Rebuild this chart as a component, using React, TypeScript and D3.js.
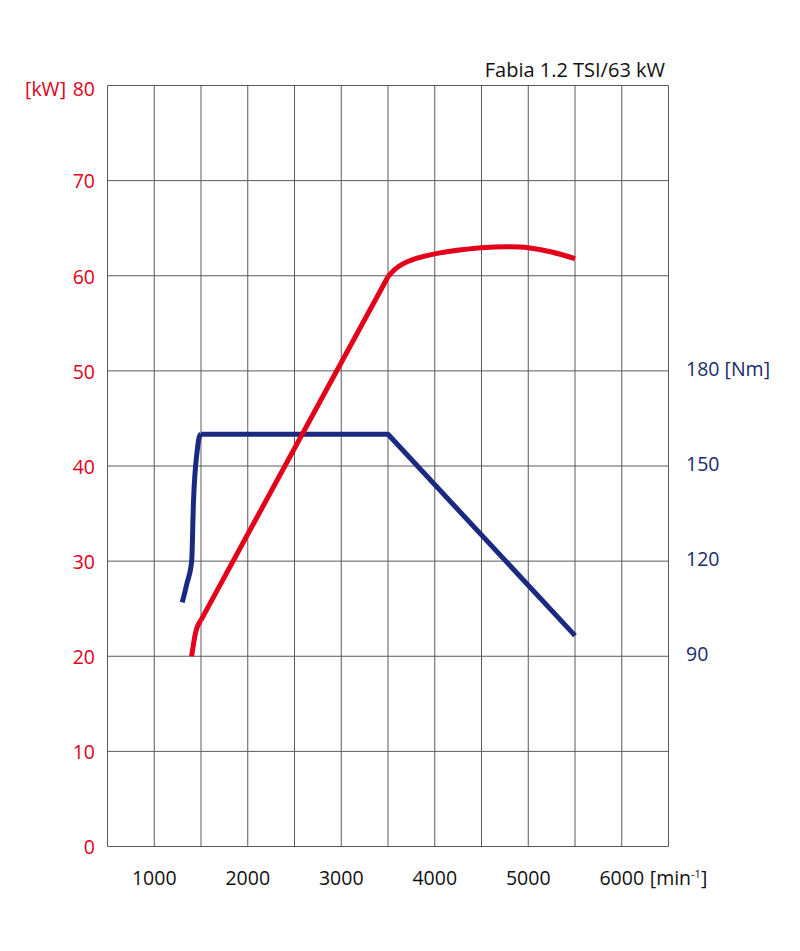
import React from "react";
import * as d3 from "d3";

const rpmTicks = [1000, 2000, 3000, 4000, 5000, 6000];
const kwTicks = [0, 10, 20, 30, 40, 50, 60, 70, 80];
const nmTicks = [90, 120, 150, 180];

const powerRpm = [1400, 1440, 1500, 3500, 3650, 4000, 4500, 4800, 5000, 5250, 5500];
const powerKw = [20, 22.4, 23.8, 59.9, 61.2, 62.3, 62.95, 63.05, 62.95, 62.5, 61.8];

const torqueRpm = [1300, 1350, 1400, 1420, 1460, 1485, 1500, 3500, 5500];
const torqueNm = [107, 113, 120, 139, 155, 159.5, 160, 160, 96.5];

const W = 800, H = 951;
const L = 107.5, R = 668.5, T = 85.5, B = 846.5;
const FONT = "'Open Sans', sans-serif";
const RED = "#e2001a";
const BLUE = "#1a2a80";
const NAVY = "#1c2a6e";
const GRID = "#5a5a5a";

export default function App() {
  const x = d3.scaleLinear().domain([500, 6500]).range([L, R]);
  const y = d3.scaleLinear().domain([0, 80]).range([B, T]);
  const yNm = d3.scaleLinear().domain([30, 270]).range([B, T]);

  const vGrid = d3.range(500, 6501, 500);

  const pPts: [number, number][] = powerRpm.map((r, i) => [x(r), y(powerKw[i])]);
  const tPts: [number, number][] = torqueRpm.map((r, i) => [x(r), yNm(torqueNm[i])]);

  const mono = d3.line().curve(d3.curveMonotoneX);
  const lin = d3.line();

  const powerStart = mono(pPts.slice(0, 3)) || "";
  const powerMid = lin(pPts.slice(2, 4)) || "";
  const powerEnd = d3.line().curve(d3.curveNatural)(pPts.slice(3)) || "";

  const torqueStart = mono(tPts.slice(0, 7)) || "";
  const torqueEnd = lin(tPts.slice(6)) || "";

  const stroke = (d: string, c: string, k: string) => (
    <path key={k} d={d} fill="none" stroke={c} strokeWidth={5} strokeLinejoin="round" />
  );

  return (
    <svg
      width={W}
      height={H}
      style={{ position: "absolute", left: 0, top: 0, background: "#fff" }}
      fontFamily={FONT}
    >
      <rect x={0} y={0} width={W} height={H} fill="#fff" />
      {vGrid.map((v) => (
        <line key={"v" + v} x1={x(v)} x2={x(v)} y1={T} y2={B} stroke={GRID} strokeWidth={1} />
      ))}
      {kwTicks.map((v) => (
        <line key={"h" + v} x1={L} x2={R} y1={y(v)} y2={y(v)} stroke={GRID} strokeWidth={1} />
      ))}

      {kwTicks.map((v) => (
        <text key={"kl" + v} x={95} y={y(v) + (v === 80 ? 4 : 1)} dy="0.35em" textAnchor="end" fill={RED} fontSize={19.5}>
          {v}
        </text>
      ))}
      <text x={25} y={y(80) + 4} dy="0.35em" fill={RED} fontSize={19.5}>
        [kW]
      </text>

      {nmTicks.map((v) => (
        <text key={"nl" + v} x={686} y={yNm(v) - 2} dy="0.35em" fill={NAVY} fontSize={19.5}>
          {v}
          {v === 180 ? " [Nm]" : ""}
        </text>
      ))}

      {rpmTicks.map((v) => (
        <text key={"xl" + v} x={x(v)} y={878} dy="0.35em" textAnchor="middle" fill="#111" fontSize={19.5}>
          {v}
        </text>
      ))}
      <text x={x(6000) + 28} y={878} dy="0.35em" fill="#111" fontSize={19.5}>
        [min
        <tspan fontSize={11} dy="-7">-1</tspan>
        <tspan dy="7">]</tspan>
      </text>

      <text x={665} y={70} dy="0.35em" textAnchor="end" fill="#111" fontSize={20}>
        Fabia 1.2 TSI/63 kW
      </text>

      {stroke(torqueStart, BLUE, "t1")}
      {stroke(torqueEnd, BLUE, "t2")}
      {stroke(powerStart, RED, "p1")}
      {stroke(powerMid, RED, "p2")}
      {stroke(powerEnd, RED, "p3")}
    </svg>
  );
}
